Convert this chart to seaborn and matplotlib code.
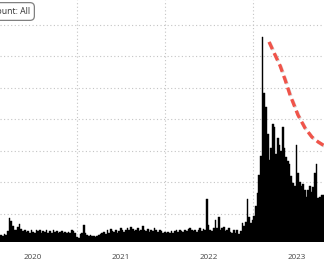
import numpy as np
import pandas as pd
import matplotlib
matplotlib.use("Agg")
import matplotlib.pyplot as plt
import matplotlib.dates as mdates
import matplotlib.ticker as mticker
import matplotlib.patheffects as pe
import seaborn as sns

# ---------------- data ----------------
week_start = "2020-02-10"
weekly_values = [
    0.30, 0.33, 0.30, 0.35, 0.32,
    0.45, 0.87, 0.78, 0.62, 0.50,
    0.48, 0.58, 0.68, 0.52, 0.45,
    0.50, 0.42, 0.45, 0.40, 0.48,
    0.42, 0.38, 0.50, 0.45, 0.48,
    0.40, 0.45, 0.42, 0.50, 0.40,
    0.45, 0.38, 0.48, 0.42, 0.45,
    0.40, 0.42, 0.46, 0.38, 0.42,
    0.38, 0.44, 0.40, 0.48, 0.45,
    0.40, 0.28, 0.25, 0.35, 0.38,
    0.65, 0.40, 0.32, 0.30, 0.32,
    0.30, 0.30, 0.28, 0.30, 0.32,
    0.35, 0.38, 0.42, 0.36, 0.48,
    0.40, 0.52, 0.45, 0.42, 0.50,
    0.40, 0.46, 0.55, 0.48, 0.42,
    0.50, 0.56, 0.48, 0.60, 0.52,
    0.45, 0.48, 0.55, 0.46, 0.50,
    0.62, 0.50, 0.45, 0.52, 0.42,
    0.50, 0.45, 0.55, 0.48, 0.42,
    0.50, 0.45, 0.38, 0.42, 0.40,
    0.42, 0.38, 0.45, 0.40, 0.45,
    0.48, 0.42, 0.50, 0.46, 0.44,
    0.50, 0.45, 0.52, 0.55, 0.48,
    0.45, 0.50, 0.42, 0.48, 0.55,
    0.45, 0.52, 0.48, 1.49, 0.65,
    0.50, 0.45, 0.55, 0.80, 0.55,
    0.90, 0.50, 0.55, 0.58, 0.45,
    0.50, 0.55, 0.42, 0.38, 0.48,
    0.40, 0.50, 0.35, 0.45, 0.70,
    0.62, 0.75, 1.49, 0.90, 0.70,
    0.80, 0.95, 1.25, 1.65, 2.25,
    2.85, 6.60, 4.85, 4.40, 3.55,
    2.70, 3.10, 3.85, 3.75, 2.90,
    3.40, 3.20, 3.00, 3.75, 3.10,
    2.80, 2.68, 2.60, 2.20, 1.98,
    1.90, 3.20, 2.30, 2.00, 1.90,
    1.95, 1.75, 1.55, 1.75, 1.90,
    1.70, 1.85, 2.30, 2.60, 1.50,
    1.55, 1.60, 1.60,
]

curve_dates = ["2023-03-08", "2023-03-29", "2023-04-23", "2023-05-14", "2023-06-03",
               "2023-07-06", "2023-08-04", "2023-09-02", "2023-09-27", "2023-10-22",
               "2023-12-02"]
curve_values = [6.46, 6.11, 5.70, 5.25, 4.78, 4.14, 3.73, 3.44, 3.29, 3.17, 3.03]

legend_text = "Count: All"
grid_levels = [1, 2, 3, 4, 5, 6, 7]

# ---------------- figure ----------------
sns.set_theme(style="white")
plt.rcParams["font.family"] = ["Open Sans", "DejaVu Sans"]

fig = plt.figure(figsize=(3.24, 2.62), dpi=100)
ax = fig.add_axes([0, 20 / 262, 1, 242 / 262])

dates = pd.date_range(week_start, periods=len(weekly_values), freq="7D")
edges = pd.date_range(week_start, periods=len(weekly_values) + 1, freq="7D")
bars = pd.DataFrame({"x": mdates.date2num(dates) + 3.5, "w": weekly_values})
bin_edges = [float(v) for v in mdates.date2num(edges)]
sns.histplot(data=bars, x="x", weights="w", bins=bin_edges,
             color="black", alpha=1, edgecolor="black", linewidth=0.3,
             element="bars", fill=True, ax=ax, zorder=2)

curve = pd.DataFrame({"x": mdates.date2num(pd.to_datetime(curve_dates)), "y": curve_values})
sns.lineplot(data=curve, x="x", y="y", ax=ax, color="#f0544a", lw=2.4,
             zorder=4, sort=False)
line = ax.lines[-1]
line.set_dashes((2.4, 1.3))
line.set_path_effects([pe.SimpleLineShadow(offset=(0.6, -0.6), shadow_color="#999999", alpha=0.35),
                       pe.Normal()])

# axes limits
ax.set_xlim(mdates.date2num(pd.Timestamp("2020-02-16")),
            mdates.date2num(pd.Timestamp("2023-10-22")))
ax.set_ylim(0.11, 7.79)

# grid
ax.set_yticks(grid_levels)
ax.yaxis.set_major_formatter(mticker.NullFormatter())
ax.tick_params(axis="y", length=0)
ax.grid(axis="y", color="#c4c4c4", linestyle=(0, (1, 2.2)), lw=0.8, zorder=0)

ax.xaxis.set_major_locator(mdates.YearLocator())
ax.xaxis.set_major_formatter(mticker.NullFormatter())
ax.xaxis.set_minor_locator(mdates.MonthLocator(bymonth=[4, 7, 10]))

def _fmt(v, pos):
    d = mdates.num2date(v)
    return str(d.year) if d.month == 7 else ""

ax.xaxis.set_minor_formatter(mticker.FuncFormatter(_fmt))
ax.grid(axis="x", which="major", color="#c4c4c4", linestyle=(0, (1, 2.2)), lw=0.8, zorder=0)
ax.tick_params(axis="x", which="major", length=15, width=1, color="#d0d0d0", direction="out")
ax.tick_params(axis="x", which="minor", length=2, width=0.8, color="#999999",
               direction="out", pad=6.5, labelsize=5.8, labelcolor="#444444")
ax.set_axisbelow(True)

for s in ax.spines.values():
    s.set_visible(False)
ax.set_xlabel("")
ax.set_ylabel("")

fig.text(30 / 324, 1 - 11.5 / 262, legend_text, ha="right", va="center",
         fontsize=6.3, color="#333333",
         bbox=dict(boxstyle="round,pad=0.5,rounding_size=0.5", fc="white",
                   ec="#808080", lw=0.9))

fig.savefig("out.png", dpi=100)
